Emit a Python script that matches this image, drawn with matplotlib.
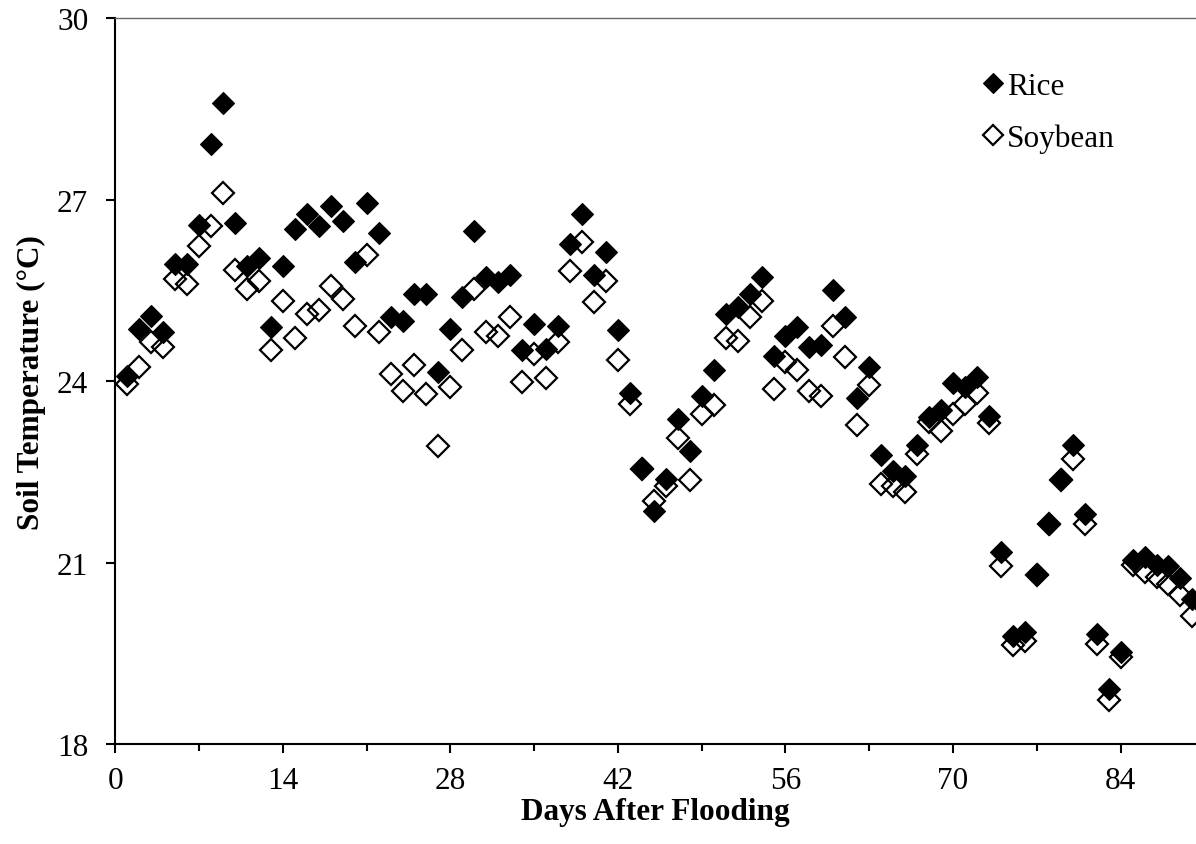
import matplotlib
matplotlib.use("Agg")
import matplotlib.pyplot as plt
from matplotlib.ticker import MultipleLocator

# daily mean soil temperature, days 1-90 after flooding
days = list(range(1, 91))

rice = [
    24.09, 24.86, 25.08, 24.81, 25.94, 25.93, 26.58, 27.92, 28.60, 26.62,
    25.91, 26.03, 24.89, 25.91, 26.52, 26.77, 26.57, 26.90, 26.65, 25.97,
    26.95, 26.45, 25.06, 25.00, 25.44, 25.44, 24.15, 24.86, 25.39, 26.49,
    25.72, 25.64, 25.76, 24.51, 24.95, 24.53, 24.92, 26.27, 26.77, 25.76,
    26.13, 24.84, 23.80, 22.56, 21.85, 22.39, 23.38, 22.85, 23.76, 24.18,
    25.11, 25.22, 25.44, 25.72, 24.42, 24.75, 24.89, 24.56, 24.59, 25.51,
    25.06, 23.72, 24.23, 22.78, 22.52, 22.44, 22.94, 23.40, 23.52, 23.97,
    23.90, 24.07, 23.43, 21.17, 19.79, 19.85, 20.81, 21.64, 22.39, 22.94,
    21.80, 19.82, 18.91, 19.52, 21.04, 21.10, 20.96, 20.95, 20.74, 20.39,
]

soybean = [
    23.96, 24.23, 24.64, 24.56, 25.69, 25.60, 26.24, 26.57, 27.11, 25.83,
    25.53, 25.66, 24.51, 25.32, 24.71, 25.11, 25.17, 25.58, 25.36, 24.92,
    26.08, 24.82, 24.12, 23.84, 24.26, 23.79, 22.92, 23.90, 24.51, 25.53,
    24.81, 24.75, 25.06, 23.98, 24.45, 24.05, 24.64, 25.82, 26.30, 25.31,
    25.66, 24.35, 23.62, 22.55, 22.02, 22.27, 23.06, 22.37, 23.46, 23.60,
    24.71, 24.67, 25.06, 25.33, 23.87, 24.31, 24.18, 23.83, 23.76, 24.92,
    24.40, 23.27, 23.93, 22.30, 22.26, 22.17, 22.80, 23.32, 23.17, 23.45,
    23.63, 23.81, 23.31, 20.95, 19.63, 19.71, 20.80, 21.63, 22.37, 22.72,
    21.63, 19.66, 18.72, 19.44, 20.96, 20.85, 20.77, 20.65, 20.46, 20.12,
]

plt.rcParams['font.family'] = ['Liberation Serif', 'DejaVu Serif']

fig = plt.figure(figsize=(11.96, 8.45), dpi=100)
ax = fig.add_axes([0.0964, 0.1183, 0.9036, 0.8589])

ax.plot(days, soybean, linestyle='none', marker='D', markersize=11.5,
        markerfacecolor='none', markeredgecolor='black',
        markeredgewidth=1.6, label='Soybean', zorder=2)
ax.plot(days, rice, linestyle='none', marker='D', markersize=11.5,
        color='black', markeredgewidth=0.8, markeredgecolor='black',
        label='Rice', zorder=3)

ax.set_xlim(0, 90.3)
ax.set_ylim(18, 30)
ax.xaxis.set_major_locator(MultipleLocator(14))
ax.xaxis.set_minor_locator(MultipleLocator(7))
ax.yaxis.set_major_locator(MultipleLocator(3))

for side in ['left', 'bottom']:
    ax.spines[side].set_linewidth(1.5)
    ax.spines[side].set_color('black')
ax.spines['top'].set_linewidth(1.0)
ax.spines['top'].set_color('#6a6a6a')
ax.spines['right'].set_visible(False)

ax.tick_params(axis='both', which='major', direction='out', length=6.5,
               width=1.5, labelsize=22.5, color='black')
ax.tick_params(axis='x', which='minor', direction='out', length=5,
               width=1.5, color='black')
ax.tick_params(axis='y', pad=13)
ax.tick_params(axis='x', pad=9)

ax.set_xlabel('Days After Flooding', fontsize=22.5, fontweight='bold',
              labelpad=2)
ax.set_ylabel('Soil Temperature (°C)', fontsize=22.5, fontweight='bold',
              labelpad=8)

# legend lists rice first, markers slightly smaller than the plotted ones
handles, labels = ax.get_legend_handles_labels()
ax.legend(handles[::-1], labels[::-1], loc='upper left',
          bbox_to_anchor=(0.792, 0.943), frameon=False,
          fontsize=22.5, handlelength=0.6, handletextpad=0.15,
          labelspacing=0.72, markerscale=0.85, borderaxespad=0)

fig.savefig('out.png', dpi=100)
